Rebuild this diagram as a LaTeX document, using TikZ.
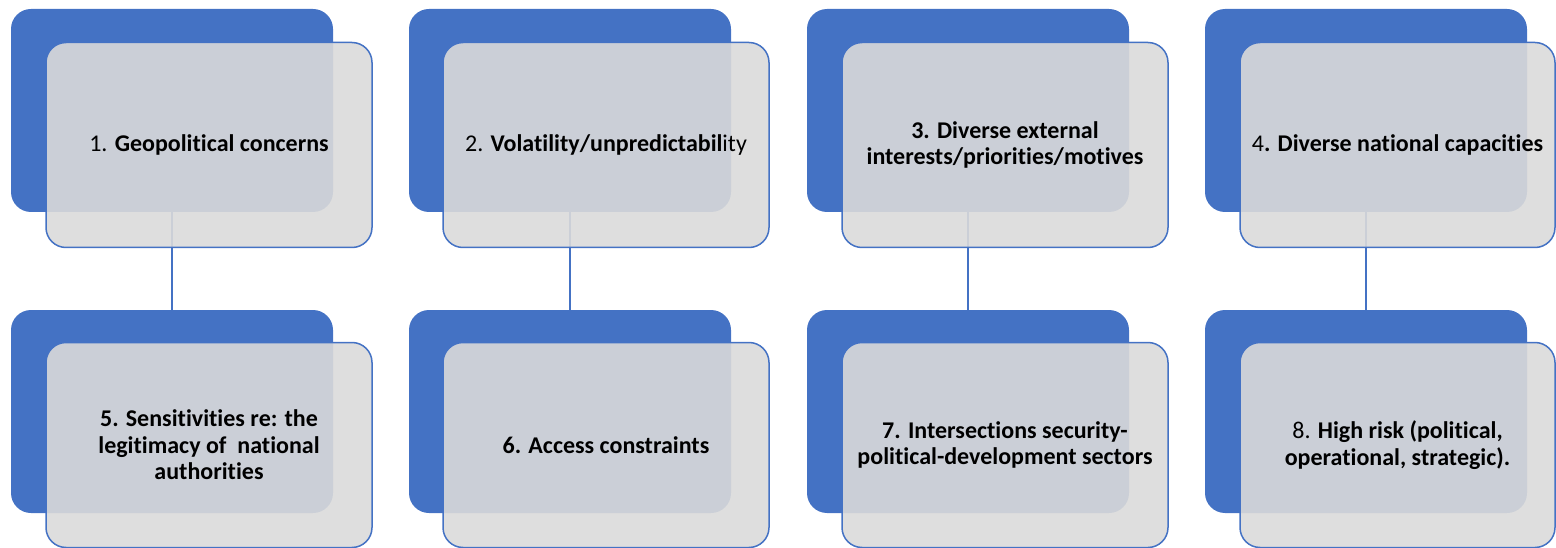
\documentclass[tikz,border=0pt]{standalone}
\usepackage{fontspec}
\setmainfont[Ligatures=NoCommon]{Carlito}
\definecolor{accblue}{HTML}{4472C4}
\definecolor{cardgray}{HTML}{DADADA}
\begin{document}
\begin{tikzpicture}[x=1pt,y=-1pt,
  backbox/.style={rectangle, rounded corners=20pt, fill=accblue, draw=none,
    minimum width=322pt, minimum height=203pt, inner sep=0pt},
  frontbox/.style={rectangle, rounded corners=20pt, fill=cardgray, fill opacity=0.9,
    draw=accblue, line width=1.5pt, minimum height=205pt, inner sep=0pt,
    text opacity=1, align=center, font=\fontsize{24}{26.5}\selectfont},
  link/.style={draw=accblue, line width=1.8pt}]
\useasboundingbox (0,0) rectangle (1556,548);
% back boxes
\node[backbox] (b1) at (172,110.5) {};
\node[backbox] (b2) at (570,110.5) {};
\node[backbox] (b3) at (968,110.5) {};
\node[backbox] (b4) at (1366,110.5) {};
\node[backbox] (b5) at (172,411.5) {};
\node[backbox] (b6) at (570,411.5) {};
\node[backbox] (b7) at (968,411.5) {};
\node[backbox] (b8) at (1366,411.5) {};
% connectors
\draw[link] (b1.south) -- (b5.north);
\draw[link] (b2.south) -- (b6.north);
\draw[link] (b3.south) -- (b7.north);
\draw[link] (b4.south) -- (b8.north);
% front boxes
\node[frontbox, minimum width=326pt] (f1) at (209,145) {1. \textbf{Geopolitical concerns}};
\node[frontbox, minimum width=326pt] (f2) at (606,145) {2. \textbf{Volatility/unpredictabil}ity};
\node[frontbox, minimum width=326pt] (f3) at (1005,145) {\textbf{3. Diverse external}\\\textbf{interests/priorities/motives}};
\node[frontbox, minimum width=315pt] (f4) at (1397.5,145) {4\textbf{. Diverse national capacities}};
\node[frontbox, minimum width=326pt] (f5) at (209,445) {\textbf{5. Sensitivities re: the}\\\textbf{legitimacy of~ national}\\\textbf{authorities}};
\node[frontbox, minimum width=326pt] (f6) at (606,445) {\textbf{6. Access constraints}};
\node[frontbox, minimum width=326pt] (f7) at (1005,445) {\textbf{7. Intersections security-}\\\textbf{political-development sectors}};
\node[frontbox, minimum width=315pt] (f8) at (1397.5,445) {8. \textbf{High risk (political,}\\\textbf{operational, strategic).}};
\end{tikzpicture}
\end{document}
